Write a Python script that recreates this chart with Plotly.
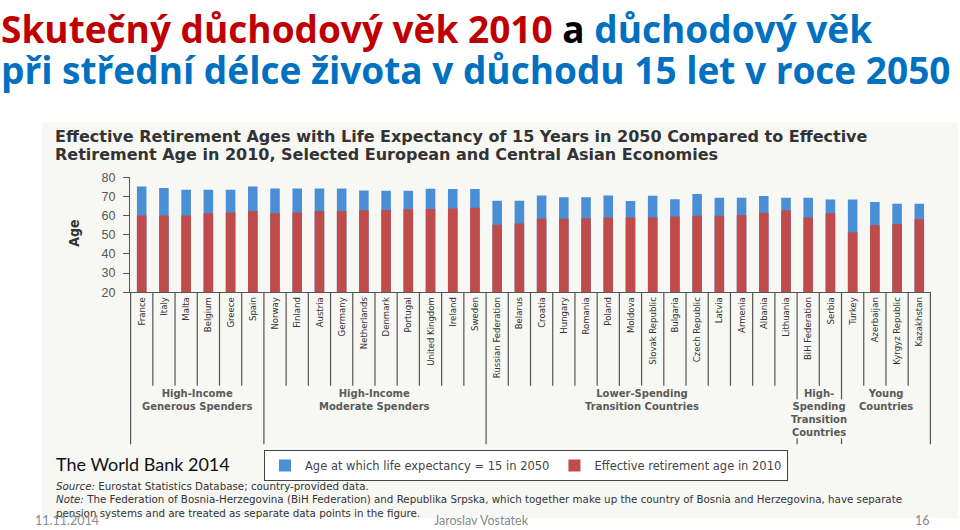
import plotly.graph_objects as go

# data
countries = ["France", "Italy", "Malta", "Belgium", "Greece", "Spain",
             "Norway", "Finland", "Austria", "Germany", "Netherlands", "Denmark",
             "Portugal", "United Kingdom", "Ireland", "Sweden",
             "Russian Federation", "Belarus", "Croatia", "Hungary", "Romania",
             "Poland", "Moldova", "Slovak Republic", "Bulgaria", "Czech Republic",
             "Latvia", "Armenia", "Albania", "Lithuania",
             "BiH Federation", "Serbia",
             "Turkey", "Azerbaijan", "Kyrgyz Republic", "Kazakhstan"]

age_2050 = [75.3, 74.4, 73.5, 73.5, 73.5, 75.2, 74.2, 74.2, 74.2, 74.2, 73.2, 73.0,
            73.0, 74.0, 73.9, 73.9, 67.8, 67.8, 70.6, 69.6, 69.6, 70.6, 67.6, 70.4,
            68.6, 71.3, 69.3, 69.3, 70.3, 69.3, 69.3, 68.4, 68.4, 67.2, 66.2, 66.2]

eff_2010 = [60.1, 60.1, 60.1, 61.3, 61.6, 62.5, 61.3, 61.6, 62.5, 62.5, 62.8, 63.0,
            63.3, 63.5, 63.8, 64.2, 55.3, 55.9, 58.4, 58.4, 58.7, 59.1, 59.1, 59.1,
            59.6, 59.9, 59.9, 60.3, 61.5, 62.8, 59.1, 61.3, 51.4, 55.0, 55.6, 58.1]

groups = ["High-Income<br>Generous Spenders", "High-Income<br>Moderate Spenders",
          "Lower-Spending<br>Transition Countries",
          "High-<br>Spending<br>Transition<br>Countries", "Young<br>Countries"]
group_sizes = [6, 10, 14, 2, 4]

note_text = ("<i>Source:</i> Eurostat Statistics Database; country-provided data.<br>"
             "<i>Note:</i> The Federation of Bosnia-Herzegovina (BiH Federation) and Republika Srpska, "
             "which together make up the country of Bosnia and Herzegovina, have separate<br>"
             "pension systems and are treated as separate data points in the figure.")

W, H = 960, 530


def px(x):
    return x / W


def py(y):
    return 1 - y / H


BLUE = "#4a8ed6"
RED = "#bf4c4a"
GREY = "#555555"
COND = "DejaVu Sans Condensed, Roboto, Liberation Sans"

fig = go.Figure()
fig.add_trace(go.Bar(x=countries, y=age_2050, name="Age at which life expectancy = 15 in 2050",
                     marker=dict(color=BLUE, line=dict(width=0)), width=0.43))
fig.add_trace(go.Bar(x=countries, y=eff_2010, name="Effective retirement age in 2010",
                     marker=dict(color=RED, line=dict(width=0)), width=0.43))

shapes = []
# scanned figure background
shapes.append(dict(type="rect", xref="paper", yref="paper", x0=px(42), x1=px(958),
                   y0=py(525), y1=py(118), fillcolor="#f7f7f3", line=dict(width=0), layer="below"))

# separator lines under the category axis
n = len(countries)
group_edges = [0]
for s in group_sizes:
    group_edges.append(group_edges[-1] + s)
for i in range(n + 1):
    xb = i - 0.5
    if i in group_edges:
        if i in (30, 32):
            shapes.append(dict(type="line", xref="x", yref="paper", x0=xb, x1=xb,
                               y0=py(293), y1=py(403), line=dict(color=GREY, width=1.2)))
            shapes.append(dict(type="line", xref="x", yref="paper", x0=xb, x1=xb,
                               y0=py(443), y1=py(449), line=dict(color=GREY, width=1.2)))
        else:
            shapes.append(dict(type="line", xref="x", yref="paper", x0=xb, x1=xb,
                               y0=py(293), y1=py(449), line=dict(color=GREY, width=1.2)))
    else:
        shapes.append(dict(type="line", xref="x", yref="paper", x0=xb, x1=xb,
                           y0=py(293), y1=py(389), line=dict(color=GREY, width=1.2)))

annotations = []
# group labels
for g, a, b in zip(groups, group_edges[:-1], group_edges[1:]):
    annotations.append(dict(text="<b>" + g + "</b>", xref="x", yref="paper", x=(a + b) / 2 - 0.5,
                            y=py(390), xanchor="center", yanchor="top", showarrow=False,
                            borderpad=0,
                            font=dict(family="DejaVu Sans", size=10, color="#5a5a5a")))

# slide title
annotations.append(dict(text="<b><span style='color:#c00000'>Skutečný důchodový věk 2010</span>"
                             " <span style='color:#000000'>a</span> "
                             "<span style='color:#0070c0'>důchodový věk</span></b>",
                        xref="paper", yref="paper", x=px(0), y=py(22), xanchor="left",
                        yanchor="middle", showarrow=False, borderpad=0,
                        font=dict(family="Open Sans", size=37)))
annotations.append(dict(text="<b>při střední délce života v důchodu 15 let v roce 2050</b>",
                        xref="paper", yref="paper", x=px(0), y=py(64), xanchor="left",
                        yanchor="middle", showarrow=False, borderpad=0,
                        font=dict(family="Open Sans", size=37, color="#0070c0")))

# chart title from the scanned figure
ttl = dict(family="DejaVu Sans", size=16, color="#333333")
annotations.append(dict(text="<b>Effective Retirement Ages with Life Expectancy of 15 Years in 2050 Compared to Effective</b>",
                        xref="paper", yref="paper", x=px(53), y=py(133), xanchor="left",
                        yanchor="middle", showarrow=False, font=ttl))
annotations.append(dict(text="<b>Retirement Age in 2010, Selected European and Central Asian Economies</b>",
                        xref="paper", yref="paper", x=px(53), y=py(151), xanchor="left",
                        yanchor="middle", showarrow=False, font=ttl))

annotations.append(dict(text="<b>Age</b>", textangle=-90, xref="paper", yref="paper",
                        x=px(64), y=py(233), showarrow=False,
                        font=dict(family=COND, size=14, color="#333333")))

annotations.append(dict(text="The World Bank 2014", xref="paper", yref="paper",
                        x=px(54), y=py(469), xanchor="left", yanchor="middle", showarrow=False,
                        font=dict(family="Lato", size=18, color="#111111")))

annotations.append(dict(text=note_text, xref="paper", yref="paper", x=px(55), y=py(485),
                        xanchor="left", yanchor="top", align="left", showarrow=False, borderpad=0,
                        font=dict(family="DejaVu Sans", size=10.3, color="#333333")))

# footer
foot = dict(family="Lato", size=12.5, color="#8a8a8a")
annotations.append(dict(text="11.11.2014", xref="paper", yref="paper", x=px(33), y=py(527),
                        xanchor="left", yanchor="middle", showarrow=False, font=foot))
annotations.append(dict(text="Jaroslav Vostatek", xref="paper", yref="paper", x=px(481), y=py(527),
                        xanchor="center", yanchor="middle", showarrow=False, font=foot))
annotations.append(dict(text="16", xref="paper", yref="paper", x=px(932), y=py(527),
                        xanchor="right", yanchor="middle", showarrow=False, font=foot))

fig.update_layout(
    width=W, height=H, margin=dict(l=0, r=0, t=0, b=0),
    paper_bgcolor="white", plot_bgcolor="rgba(0,0,0,0)",
    barmode="overlay", bargap=0.57,
    shapes=shapes, annotations=annotations,
    legend=dict(orientation="h", x=px(264), y=py(455), xanchor="left", yanchor="top",
                bordercolor="#444444", borderwidth=1, bgcolor="#ffffff",
                font=dict(family="DejaVu Sans", size=11.5, color="#444444"),
                itemwidth=30, traceorder="normal"),
)
fig.update_xaxes(domain=[px(130), px(931)], showline=True, linecolor=GREY, linewidth=1.2,
                 ticks="", tickangle=-90, showgrid=False,
                 tickfont=dict(family=COND, size=9.5, color="#333333"))
fig.update_yaxes(domain=[py(293), py(175)], range=[20, 80], dtick=10, showline=True,
                 linecolor=GREY, linewidth=1.2, ticks="outside", ticklen=6, tickcolor=GREY,
                 showgrid=False, zeroline=False, ticklabelstandoff=5,
                 tickfont=dict(family="Liberation Sans", size=12.5, color="#555555"))

fig.write_html("out.html", config={"displayModeBar": False},
               post_script="document.body.style.margin='0';")
